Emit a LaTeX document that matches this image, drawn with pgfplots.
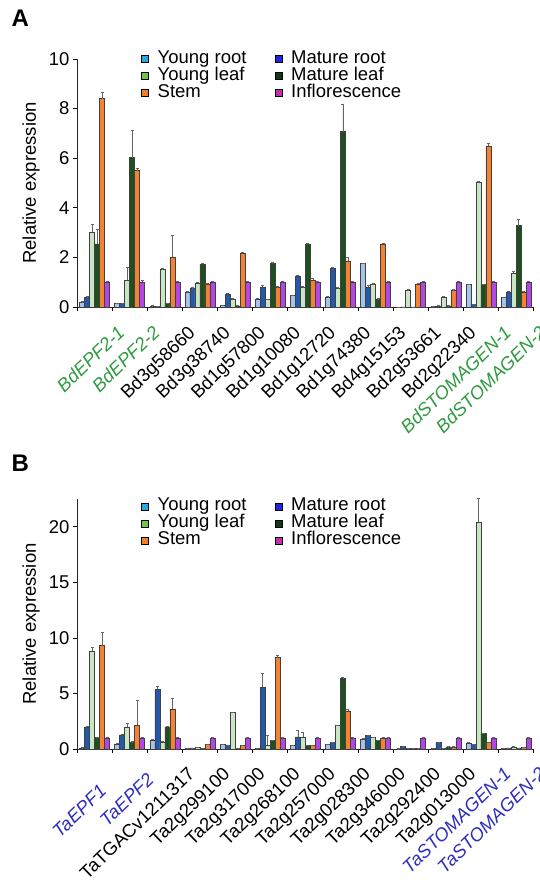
\documentclass[border=0pt]{standalone}
\usepackage{fontspec}
\setmainfont{Liberation Sans}
\usepackage{pgfplots}
\usepackage{pgfplotstable}
\pgfplotsset{compat=1.18}

\definecolor{yrbar}{RGB}{166,196,232}
\definecolor{mrbar}{RGB}{36,88,170}
\definecolor{ylbar}{RGB}{200,230,195}
\definecolor{mlbar}{RGB}{30,80,30}
\definecolor{stbar}{RGB}{245,130,50}
\definecolor{inbar}{RGB}{180,70,230}
\definecolor{yrleg}{RGB}{42,168,224}
\definecolor{mrleg}{RGB}{28,40,224}
\definecolor{ylleg}{RGB}{108,200,64}
\definecolor{mlleg}{RGB}{16,58,16}
\definecolor{stleg}{RGB}{245,130,32}
\definecolor{inleg}{RGB}{192,48,176}
\definecolor{lblgreen}{RGB}{46,154,64}
\definecolor{lblblue}{RGB}{45,45,191}

\pgfplotstableread{
x yr yre mr mre yl yle ml mle st ste in ine
0 0.19 0.03 0.38 0.04 3.02 0.30 2.54 0.60 8.40 0.25 1.00 0.05
1 0.15 0.02 0.15 0.02 1.07 0.55 6.02 1.10 5.50 0.10 1.00 0.08
2 0.05 0.01 0.03 0.01 1.52 0.03 0.15 0.02 2.02 0.88 1.00 0.03
3 0.58 0.05 0.74 0.05 0.97 0.04 1.72 0.05 0.93 0.03 1.00 0.03
4 0.08 0.01 0.51 0.05 0.31 0.03 0.05 0.01 2.16 0.05 1.00 0.03
5 0.32 0.03 0.79 0.10 0.30 0.03 1.75 0.05 0.79 0.03 1.00 0.05
6 0.46 0.03 1.25 0.05 0.78 0.05 2.54 0.05 1.09 0.05 1.00 0.03
7 0.39 0.03 1.55 0.05 0.74 0.05 7.07 1.10 1.85 0.15 1.00 0.03
8 1.75 0.03 0.81 0.05 0.90 0.05 0.31 0.03 2.54 0.05 1.00 0.03
9 0.00 0.00 0.00 0.00 0.67 0.03 0.00 0.00 0.91 0.05 1.00 0.03
10 0.04 0.01 0.05 0.01 0.40 0.03 0.05 0.01 0.67 0.03 1.00 0.03
11 0.90 0.03 0.12 0.01 5.03 0.03 0.90 0.03 6.50 0.10 1.00 0.03
12 0.38 0.03 0.59 0.05 1.38 0.05 3.28 0.25 0.60 0.03 1.00 0.03
}\dataA

\pgfplotstableread{
x yr yre mr mre yl yle ml mle st ste in ine
0 0.10 0.02 2.00 0.05 8.83 0.30 1.02 0.05 9.31 1.20 1.00 0.05
1 0.45 0.10 1.26 0.05 1.98 0.30 0.57 0.10 2.13 2.30 1.00 0.05
2 0.81 0.10 5.37 0.30 0.63 0.05 2.00 0.05 3.57 1.00 1.00 0.05
3 0.05 0.01 0.10 0.01 0.15 0.02 0.05 0.01 0.42 0.03 1.00 0.03
4 0.40 0.03 0.30 0.03 3.30 0.05 0.05 0.01 0.35 0.03 1.00 0.03
5 0.10 0.01 5.55 1.30 0.35 0.90 0.77 0.05 8.23 0.20 1.00 0.03
6 0.32 0.03 1.10 0.60 1.05 0.50 0.30 0.03 0.32 0.03 1.00 0.03
7 0.40 0.03 0.60 0.05 2.13 0.05 6.37 0.05 3.42 0.20 1.00 0.03
8 0.90 0.05 1.20 0.05 1.05 0.05 0.77 0.05 1.00 0.05 1.00 0.03
9 0.02 0.01 0.25 0.03 0.05 0.01 0.05 0.01 0.05 0.01 1.00 0.03
10 0.05 0.01 0.60 0.03 0.10 0.01 0.20 0.02 0.20 0.02 1.00 0.03
11 0.55 0.05 0.40 0.03 20.40 2.20 1.41 0.05 0.57 0.05 1.00 0.03
12 0.05 0.01 0.10 0.01 0.20 0.02 0.10 0.01 0.15 0.02 1.00 0.03
}\dataB

\newcommand\fs{\fontsize{18.5}{20}\selectfont}

\pgfplotsset{
  ser/.style n args={2}{fill=#1, draw=black!75, line width=0.4pt,
    legend image code/.code={\draw[fill=#2,draw=black,line width=0.6pt] (0pt,-3.5pt) rectangle (7pt,3.5pt);}},
  panel/.style={
    scale only axis, width=456.6pt,
    xmin=-0.5, xmax=12.5, ymin=0,
    axis x line*=bottom, axis y line*=left,
    axis line style={line width=0.8pt, black!85},
    ybar=0pt, bar width=5pt,
    xtick={0,...,12}, major x tick style={draw=none},
    minor xtick={-0.5,0.5,...,12.5},
    tick align=outside,
    major tick length=4pt, minor tick length=4pt,
    every tick/.style={black, line width=0.6pt},
    /pgf/number format/assume math mode=true,
    yticklabel style={font=\fs},
    xticklabel style={font=\fs, inner sep=0pt, xshift=22pt, yshift=-13pt, rotate=44, anchor=north east},
    ylabel={Relative expression},
    ylabel style={font=\fs, at={(axis description cs:-0.081,0.5)}, anchor=south, inner sep=0pt},
    legend columns=2,
    legend cell align=left,
    legend style={anchor=north west, draw=none, fill=none, font=\fs, inner sep=0pt,
      row sep=0pt, nodes={inner sep=0pt, text height=13pt, text depth=4pt},
      column sep=9pt, /tikz/every even column/.append style={column sep=28pt}},
    clip=false,
    error bars/y dir=plus, error bars/y explicit,
    error bars/error bar style={line width=0.5pt, black!60},
    error bars/error mark options={rotate=90, mark size=1.5pt, black!60, line width=0.5pt},
  }
}

\begin{document}
\begin{tikzpicture}[x=1pt,y=1pt]
\path[use as bounding box] (0,0) rectangle (539,880);

\node[anchor=north west, font=\fontsize{24}{24}\selectfont\bfseries] at (8,874) {A};
\node[anchor=north west, font=\fontsize{24}{24}\selectfont\bfseries] at (8,429) {B};

\begin{axis}[panel, at={(77pt,573pt)}, anchor=south west, height=248pt, ymax=10,
  ytick={0,2,...,10},
  legend style={at={(axis description cs:0.14,1.036)}},
  xticklabels={
    {\textcolor{lblgreen}{\itshape BdEPF2-1}},
    {\textcolor{lblgreen}{\itshape BdEPF2-2}},
    Bd3g58660, Bd3g38740, Bd1g57800, Bd1g10080, Bd1g12720, Bd1g74380,
    Bd4g15153, Bd2g53661, Bd2g22340,
    {\textcolor{lblgreen}{\itshape BdSTOMAGEN-1}},
    {\textcolor{lblgreen}{\itshape BdSTOMAGEN-2}}}]
\addplot[ser={yrbar}{yrleg}] table[x=x, y=yr, y error=yre]{\dataA};
\addlegendentry{Young root}
\addplot[ser={mrbar}{mrleg}] table[x=x, y=mr, y error=mre]{\dataA};
\addlegendentry{Mature root}
\addplot[ser={ylbar}{ylleg}] table[x=x, y=yl, y error=yle]{\dataA};
\addlegendentry{Young leaf}
\addplot[ser={mlbar}{mlleg}] table[x=x, y=ml, y error=mle]{\dataA};
\addlegendentry{Mature leaf}
\addplot[ser={stbar}{stleg}] table[x=x, y=st, y error=ste]{\dataA};
\addlegendentry{Stem}
\addplot[ser={inbar}{inleg}] table[x=x, y=in, y error=ine]{\dataA};
\addlegendentry{Inflorescence}
\end{axis}

\begin{axis}[panel, at={(77pt,131pt)}, anchor=south west, height=250pt, ymax=22.5,
  ytick={0,5,...,20},
  legend style={at={(axis description cs:0.14,1.005)}},
  xticklabels={
    {\textcolor{lblblue}{\itshape TaEPF1}\kern25pt},
    {\textcolor{lblblue}{\itshape TaEPF2}\kern8pt},
    TaTGACv1211317, Ta2g299100, Ta2g317000, Ta2g268100, Ta2g257000,
    Ta2g028300, Ta2g346000, Ta2g292400, Ta2g013000,
    {\textcolor{lblblue}{\itshape TaSTOMAGEN-1}},
    {\textcolor{lblblue}{\itshape TaSTOMAGEN-2}}}]
\addplot[ser={yrbar}{yrleg}] table[x=x, y=yr, y error=yre]{\dataB};
\addlegendentry{Young root}
\addplot[ser={mrbar}{mrleg}] table[x=x, y=mr, y error=mre]{\dataB};
\addlegendentry{Mature root}
\addplot[ser={ylbar}{ylleg}] table[x=x, y=yl, y error=yle]{\dataB};
\addlegendentry{Young leaf}
\addplot[ser={mlbar}{mlleg}] table[x=x, y=ml, y error=mle]{\dataB};
\addlegendentry{Mature leaf}
\addplot[ser={stbar}{stleg}] table[x=x, y=st, y error=ste]{\dataB};
\addlegendentry{Stem}
\addplot[ser={inbar}{inleg}] table[x=x, y=in, y error=ine]{\dataB};
\addlegendentry{Inflorescence}
\end{axis}
\end{tikzpicture}
\end{document}
